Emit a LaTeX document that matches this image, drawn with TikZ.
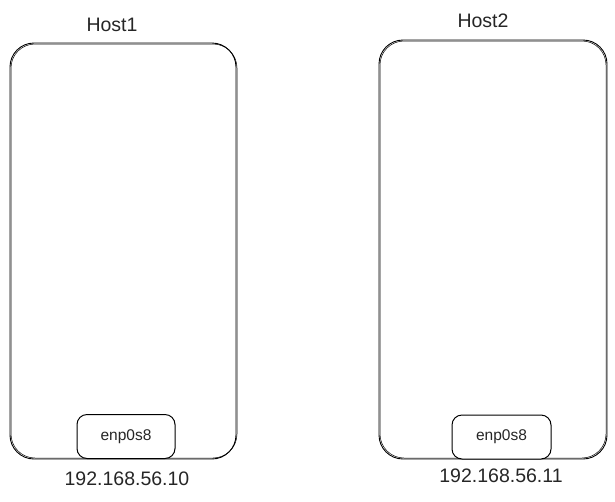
\documentclass[tikz,border=0pt]{standalone}
\usepackage{fontspec}
\setmainfont{Liberation Sans}
\begin{document}
\begin{tikzpicture}[x=1pt,y=-1pt,
  hostbox/.style={draw=black,line width=0.9pt,rounded corners=24pt},
  nicbox/.style={draw=black,line width=1pt,rounded corners=10pt,fill=white},
  hostlabel/.style={font=\fontsize{19.5}{22}\selectfont,text=black!85},
  niclabel/.style={font=\fontsize{15.5}{18}\selectfont,text=black!85},
  iplabel/.style={font=\fontsize{19.5}{22}\selectfont,text=black!85}]
\useasboundingbox (0,0) rectangle (615,501);
% Host1
\draw[hostbox] (10,43) rectangle (236,459);
\draw[hostbox,line width=0.5pt] (11,44) rectangle (237,458);
\node[hostlabel] (h1) at (112,25) {Host1};
\node[nicbox,minimum width=98pt,minimum height=44pt] (n1) at (126,436.5) {};
\node[niclabel] (n1t) at (n1) {enp0s8};
\node[iplabel] (ip1) at (127,479) {192.168.56.10};
% Host2
\draw[hostbox] (379,40) rectangle (607,459);
\draw[hostbox,line width=0.5pt] (380,41) rectangle (606,458);
\node[hostlabel] (h2) at (483,21) {Host2};
\node[nicbox,minimum width=99pt,minimum height=44pt] (n2) at (501.5,437) {};
\node[niclabel] (n2t) at (n2) {enp0s8};
\node[iplabel] (ip2) at (501,476) {192.168.56.11};
\end{tikzpicture}
\end{document}
